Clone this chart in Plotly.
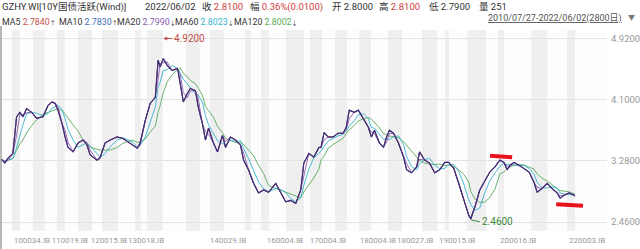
import plotly.graph_objects as go
import numpy as np

# ---- data (trading-day index since 2010/07/27, close value) ----
days = [0, 16, 32, 55, 73, 89, 104, 122, 147, 171, 202, 226, 246, 261, 275, 295, 310, 324, 349, 373,
        398, 417, 432, 466, 481, 505, 530, 564, 593, 637, 662, 676, 701, 725, 750, 764, 774, 789, 808, 833,
        857, 862, 872, 887, 906, 921, 946, 960, 980, 995, 1010, 1034, 1054, 1078, 1093, 1117, 1142, 1166, 1181, 1205,
        1230, 1254, 1279, 1303, 1338, 1362, 1387, 1411, 1436, 1460, 1475, 1500, 1524, 1549, 1559, 1574, 1594, 1618, 1643, 1667,
        1682, 1697, 1721, 1741, 1766, 1790, 1805, 1820, 1844, 1864, 1879, 1893, 1913, 1937, 1962, 1977, 2001, 2026, 2040, 2065,
        2089, 2114, 2138, 2163, 2182, 2207, 2231, 2256, 2280, 2290, 2310, 2334, 2359, 2383, 2408, 2432, 2452, 2467, 2481, 2501,
        2526, 2550, 2575, 2599, 2614, 2638, 2663, 2687, 2712, 2726, 2746, 2770, 2795, 2799]
close = [3.30, 3.25, 3.32, 3.38, 3.87, 3.93, 3.87, 3.98, 3.93, 3.85, 3.87, 4.02, 4.07, 4.05, 3.96, 3.78, 3.60, 3.46, 3.40, 3.52,
         3.56, 3.49, 3.36, 3.29, 3.33, 3.52, 3.56, 3.60, 3.58, 3.49, 3.45, 3.52, 3.82, 4.05, 4.13, 4.63, 4.54, 4.65, 4.56, 4.49,
         4.52, 4.47, 4.32, 4.07, 4.18, 4.25, 4.22, 4.00, 3.78, 3.56, 3.72, 3.52, 3.40, 3.62, 3.46, 3.60, 3.56, 3.49, 3.29, 3.16,
         2.98, 2.85, 2.89, 2.86, 2.98, 2.85, 2.73, 2.75, 2.71, 2.89, 3.25, 3.38, 3.33, 3.46, 3.46, 3.66, 3.60, 3.60, 3.65, 3.65,
         3.73, 3.96, 3.93, 3.96, 3.85, 3.73, 3.60, 3.69, 3.52, 3.46, 3.60, 3.69, 3.65, 3.52, 3.33, 3.16, 3.12, 3.20, 3.40, 3.29,
         3.25, 3.12, 3.16, 3.26, 3.26, 3.18, 2.98, 2.75, 2.55, 2.50, 2.66, 2.89, 3.02, 3.13, 3.20, 3.29, 3.26, 3.16, 3.22, 3.26,
         3.22, 3.18, 3.13, 2.99, 2.86, 2.91, 2.98, 2.91, 2.85, 2.78, 2.82, 2.85, 2.82, 2.81]

ma_windows = [5, 10, 20, 60, 120]
ma_colors = ["#c8504a", "#3f6fb8", "#8a5bb0", "#35b3cf", "#5aa95a"]
ma_vals = ["2.7840", "2.7830", "2.7990", "2.8023", "2.8002"]
ma_dirs = ["↑", "↑", "↓", "↓", "↓"]

tick_days = [148, 333, 524, 705, 1105, 1383, 1593, 1837, 2018, 2223, 2521, 2858]
tick_labels = ["100034.IB", "110019.IB", "120015.IB", "130018.IB", "140029.IB", "160004.IB",
               "170004.IB", "180004.IB", "180027.IB", "190015.IB", "200016.IB", "220003.IB"]

y_ticks = [2.46, 3.28, 4.10, 4.92]

# alternating contract shading (start day, end day)
band_start = [50, 153, 270, 373, 490, 651, 709, 900, 1017, 1188, 1266, 1388, 1505, 1627, 1745, 1886, 2052, 2164, 2272, 2423, 2585, 2760]
band_end = [89, 211, 309, 441, 568, 680, 787, 968, 1085, 1217, 1305, 1476, 1564, 1686, 1803, 1954, 2126, 2184, 2365, 2453, 2663, 2799]

high_val, high_day = 4.92, 789
low_val, low_day = 2.46, 2290

# hand-drawn red markers (day range, level)
mark1 = (2384, 2492, 3.34)
mark2 = (2707, 2838, 2.69)

d = np.array(days, dtype=float)
c = np.array(close, dtype=float)

def moving_avg(win):
    out = []
    for i in range(len(d)):
        m = (d > d[i] - win) & (d <= d[i])
        out.append(c[m].mean())
    return out

FONT = "Roboto, Noto Sans CJK SC"
W, H = 640, 249
L, R, T, B = 1, 607, 30, 231

fig = go.Figure()

for win, col in zip(ma_windows[::-1], ma_colors[::-1]):
    fig.add_trace(go.Scatter(x=days, y=moving_avg(win), mode="lines",
                             line=dict(color=col, width=0.9), hoverinfo="skip", showlegend=False))
fig.add_trace(go.Scatter(x=days, y=close, mode="lines", line=dict(color="#3d2f7a", width=1.2),
                         showlegend=False))

shapes = []
for s, e in zip(band_start, band_end):
    shapes.append(dict(type="rect", xref="x", yref="paper", x0=s, x1=e, y0=0, y1=1,
                       fillcolor="rgba(0,0,0,0.055)", line=dict(width=0), layer="below"))
shapes.append(dict(type="line", xref="paper", yref="paper", x0=0, x1=0, y0=-0.1, y1=1.02,
                   line=dict(color="#888", width=1.2)))
for x0, x1, yv in (mark1, mark2):
    shapes.append(dict(type="line", xref="x", yref="y", x0=x0, x1=x1, y0=yv + 0.01, y1=yv - 0.01,
                       line=dict(color="#e8121b", width=4)))

def px2paper(px, py):
    return (px - L) / (R - L), (B - py) / (B - T)

ann = []
def txt(px, py, text, size=9.5, color="#333"):
    x, y = px2paper(px, py)
    ann.append(dict(xref="paper", yref="paper", x=x, y=y, text=text, showarrow=False,
                    xanchor="left", yanchor="middle", font=dict(family=FONT, size=size, color=color)))

RED = "#d23c3c"
txt(0, 7, "GZHY.WI[10Y国债活跃(Wind)]")
txt(143, 7, "2022/06/02")
txt(200, 7, f"收 <span style='color:{RED}'>2.8100</span>")
txt(248, 7, f"幅 <span style='color:{RED}'>0.36%(0.0100)</span>")
txt(330, 7, "开 2.8000")
txt(377, 7, f"高 <span style='color:{RED}'>2.8100</span>")
txt(427, 7, "低 2.7900")
txt(477, 7, "量 251")

ma_x = [0, 57, 115, 173, 232]
for win, col, val, dr, px in zip(ma_windows, ma_colors, ma_vals, ma_dirs, ma_x):
    txt(px, 22, f"MA{win} <span style='color:{col}'>{val}</span><span style='font-size:6px'>{dr}</span>", size=8.8)

txt(486, 18, "<u>2010/07/27-2022/06/02(2800日)</u>", size=9, color="#555")
txt(626, 18, "▼", size=7, color="#777")

ann.append(dict(x=high_day, y=high_val, xref="x", yref="y", text="4.9200", showarrow=True,
                ax=9, ay=0, arrowhead=2, arrowsize=0.8, arrowwidth=1, arrowcolor="#c0504d",
                xanchor="left", font=dict(family=FONT, size=10, color="#c0504d")))
ann.append(dict(x=low_day, y=low_val + 0.03, xref="x", yref="y", text="2.4600", showarrow=True,
                ax=9, ay=2, arrowhead=0, arrowwidth=1, arrowcolor="#3a8a3a",
                xanchor="left", font=dict(family=FONT, size=10, color="#3a8a3a")))

fig.update_layout(
    width=W, height=H, margin=dict(l=L, r=W - R, t=T, b=H - B),
    paper_bgcolor="white", plot_bgcolor="#fdfdfd",
    shapes=shapes, annotations=ann, showlegend=False,
    xaxis=dict(range=[-3, 2955], tickmode="array", tickvals=tick_days, ticktext=tick_labels,
               showgrid=False, zeroline=False, ticks="", ticklabelstandoff=3, tickangle=0,
               tickfont=dict(family=FONT, size=8, color="#999")),
    yaxis=dict(range=[2.34, 5.034], side="right", tickmode="array", tickvals=y_ticks,
               ticktext=[f"{v:.4f}" for v in y_ticks], showgrid=True, gridcolor="#e3e3e3", gridwidth=1,
               zeroline=False, ticks="", ticklabelstandoff=3,
               tickfont=dict(family=FONT, size=9.5, color="#999")),
)

fig.write_html("out.html")
